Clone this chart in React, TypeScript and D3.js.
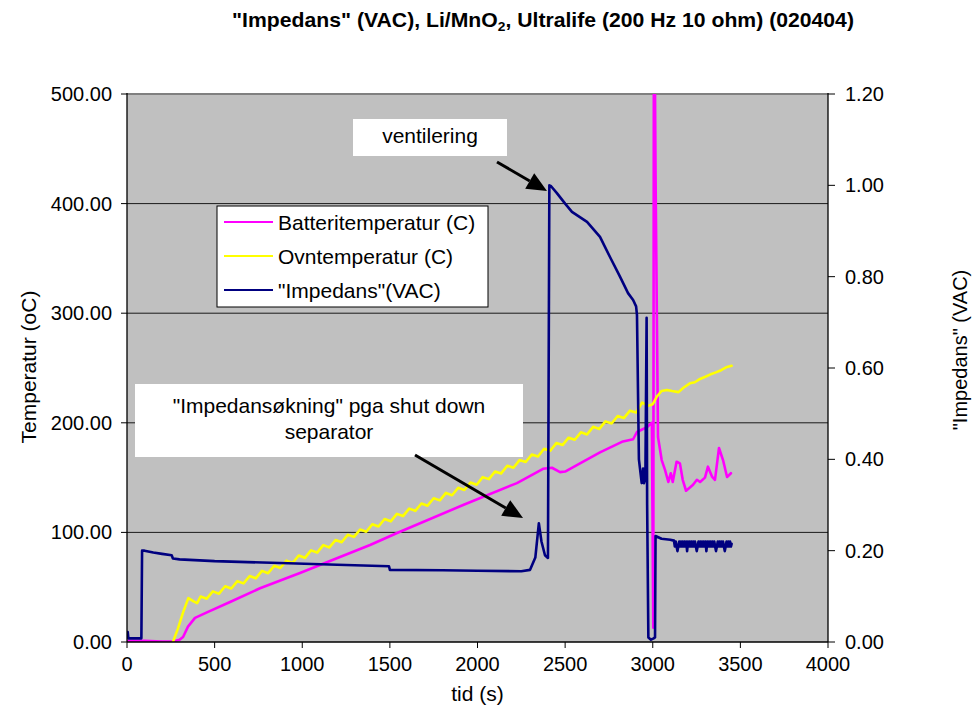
import React from 'react';
import * as d3 from 'd3';

// ---------- data ----------
const xTicks = [0, 500, 1000, 1500, 2000, 2500, 3000, 3500, 4000];
const leftTicks = [0, 100, 200, 300, 400, 500];
const rightTicks = [0, 0.2, 0.4, 0.6, 0.8, 1.0, 1.2];

const seriesNames = ['Batteritemperatur (C)', 'Ovntemperatur (C)', '"Impedans"(VAC)'];

const batTime = [0, 100, 200, 262, 300, 320, 348, 388, 456, 588, 759, 987, 1176, 1387, 1541, 1918, 2225, 2374, 2425, 2471, 2500, 2585, 2699, 2830, 2888, 2910, 2967, 2995, 3003, 3007, 3016, 3030, 3051, 3070, 3089, 3103, 3114, 3136, 3155, 3171, 3190, 3212, 3230, 3252, 3270, 3298, 3315, 3338, 3355, 3378, 3401, 3424, 3446];
const batTemp = [1, 1, 0.5, 0.5, 2, 4.6, 14, 22, 27, 36.5, 49, 63, 75, 88.5, 99.5, 125, 145, 158, 159, 155, 155.5, 163, 173, 183, 185, 191.6, 196, 200, 13, 650, 426, 187, 166, 157, 146, 154, 146, 164.5, 163, 148, 138, 141, 143.5, 148, 146, 150, 160, 151, 148, 177, 166, 150.5, 154];

const ovnTime = [262, 290, 320, 350, 380, 400, 420, 455, 490, 525, 560, 595, 630, 665, 700, 735, 770, 805, 840, 875, 910, 945, 980, 1015, 1050, 1085, 1120, 1155, 1190, 1225, 1260, 1295, 1330, 1365, 1400, 1435, 1470, 1505, 1540, 1575, 1610, 1645, 1680, 1715, 1750, 1785, 1820, 1855, 1890, 1925, 1960, 1995, 2030, 2065, 2100, 2135, 2170, 2205, 2240, 2275, 2310, 2345, 2380, 2415, 2450, 2485, 2520, 2555, 2590, 2625, 2660, 2695, 2730, 2765, 2800, 2835, 2870, 2905, 2940, 2975, 3000, 3024, 3050, 3081, 3110, 3147, 3175, 3212, 3240, 3270, 3300, 3327, 3360, 3390, 3424, 3450];
const ovnTemp = [0, 12, 27, 40, 37, 35.5, 41.5, 39.5, 46.2, 44.1, 50.9, 48.8, 55.5, 53.5, 60.2, 58.1, 64.9, 62.8, 69.5, 67.5, 74.2, 72.1, 78.9, 76.8, 83.6, 81.6, 88.4, 86.3, 93.1, 91.1, 97.9, 95.9, 102.6, 100.6, 107.4, 105.4, 112.2, 110.1, 116.9, 114.9, 121.7, 119.7, 126.4, 124.4, 131.2, 129.2, 136.0, 133.9, 140.7, 138.7, 145.5, 143.5, 150.4, 148.6, 155.6, 153.8, 160.8, 159.0, 166.0, 164.2, 171.1, 169.3, 176.3, 174.5, 181.5, 179.7, 186.4, 184.5, 191.3, 189.4, 196.3, 194.4, 201.3, 199.4, 206.2, 204.3, 211.1, 209.5, 218.5, 215.5, 217, 224, 229, 230, 229, 228, 232, 236, 237, 240, 242, 244, 246, 248, 251, 252];

const impTime = [0, 4, 8, 82, 86, 100, 150, 200, 255, 262, 300, 500, 873, 1200, 1495, 1500, 1800, 2000, 2250, 2300, 2330, 2350, 2365, 2385, 2402, 2410, 2420, 2453, 2500, 2539, 2625, 2699, 2756, 2813, 2859, 2888, 2905, 2910, 2921, 2937, 2945, 2950, 2958, 2965, 2968, 2975, 2990, 3005, 3013, 3016, 3050, 3100,
  3121, 3126, 3131, 3136, 3141, 3146, 3151, 3156, 3161, 3166, 3171, 3176, 3181, 3186, 3191, 3196, 3201, 3206, 3211, 3216, 3221, 3226, 3231, 3236, 3241, 3246, 3251, 3256, 3261, 3266, 3271, 3276, 3281, 3286, 3291, 3296, 3301, 3306, 3311, 3316, 3321, 3326, 3331, 3336, 3341, 3346, 3351, 3356, 3361, 3366, 3371, 3376, 3381, 3386, 3391, 3396, 3401, 3406, 3411, 3416, 3421, 3426, 3431, 3436, 3441, 3446, 3450];
const impVac = [0.01, 0.022, 0.008, 0.008, 0.2, 0.2, 0.196, 0.193, 0.19, 0.183, 0.181, 0.177, 0.173, 0.169, 0.166, 0.158, 0.157, 0.156, 0.155, 0.158, 0.185, 0.26, 0.22, 0.19, 0.184, 1.0, 0.998, 0.983, 0.96, 0.942, 0.92, 0.887, 0.843, 0.8, 0.764, 0.749, 0.735, 0.716, 0.4, 0.348, 0.38, 0.348, 0.36, 0.71, 0.3, 0.01, 0.005, 0.008, 0.01, 0.232, 0.226, 0.224,
  0.222, 0.209, 0.22, 0.209, 0.199, 0.209, 0.22, 0.209, 0.22, 0.209, 0.22, 0.209, 0.22, 0.209, 0.22, 0.199, 0.22, 0.209, 0.22, 0.209, 0.22, 0.209, 0.22, 0.209, 0.22, 0.209, 0.199, 0.209, 0.22, 0.209, 0.22, 0.209, 0.22, 0.209, 0.22, 0.209, 0.22, 0.199, 0.22, 0.209, 0.22, 0.209, 0.22, 0.209, 0.22, 0.209, 0.22, 0.209, 0.199, 0.209, 0.22, 0.209, 0.22, 0.209, 0.22, 0.209, 0.22, 0.209, 0.199, 0.209, 0.22, 0.209, 0.22, 0.209, 0.22, 0.209, 0.215];

// ---------- layout ----------
const FONT = '"Liberation Sans", Arial, Helvetica, sans-serif';
const PL = 127, PR = 828, PT = 94, PB = 642;
const COLORS = ['#FF00FF', '#FFFF00', '#000080'];

type P = [number, number];
const zip = (a: number[], b: number[]): P[] => a.map((v, i) => [v, b[i]] as P);

function Arrow({ x1, y1, x2, y2 }: { x1: number; y1: number; x2: number; y2: number }) {
  const ang = Math.atan2(y2 - y1, x2 - x1);
  const len = 20, half = 9;
  const bx = x2 - len * Math.cos(ang), by = y2 - len * Math.sin(ang);
  const px = -Math.sin(ang) * half, py = Math.cos(ang) * half;
  return (
    <g>
      <line x1={x1} y1={y1} x2={bx} y2={by} stroke="#000" strokeWidth={3} />
      <polygon points={`${x2},${y2} ${bx + px},${by + py} ${bx - px},${by - py}`} fill="#000" />
    </g>
  );
}

export default function App() {
  const x = d3.scaleLinear().domain([0, 4000]).range([PL, PR]);
  const yL = d3.scaleLinear().domain([0, 500]).range([PB, PT]);
  const yR = d3.scaleLinear().domain([0, 1.2]).range([PB, PT]);
  const lineL = d3.line<P>().x(d => x(d[0])).y(d => yL(d[1]));
  const lineR = d3.line<P>().x(d => x(d[0])).y(d => yR(d[1]));
  const fL = d3.format('.2f');

  const legendLines = [222, 256, 290];
  const legendText = [230, 264, 298];

  return (
    <svg width={974} height={728} style={{ position: 'absolute', left: 0, top: 0, background: '#fff' }} fontFamily={FONT}>
      <defs>
        <clipPath id="plotClip">
          <rect x={PL} y={PT} width={PR - PL} height={PB - PT} />
        </clipPath>
      </defs>
      <rect width={974} height={728} fill="#fff" />

      {/* title */}
      <text transform="translate(543,27) scale(1.06,1)" textAnchor="middle" fontSize={20} fontWeight="bold" fill="#000">
        "Impedans" (VAC), Li/MnO<tspan fontSize={13} dy={4}>2</tspan><tspan dy={-4}>, Ultralife (200 Hz 10 ohm) (020404)</tspan>
      </text>

      {/* plot area */}
      <rect x={PL} y={PT} width={PR - PL} height={PB - PT} fill="#C0C0C0" />
      {leftTicks.filter(v => v > 0 && v < 500).map(v => (
        <line key={v} x1={PL} x2={PR} y1={yL(v)} y2={yL(v)} stroke="#1a1a1a" strokeWidth={1} />
      ))}
      <line x1={PL} x2={PR} y1={PT} y2={PT} stroke="#808080" strokeWidth={2} />

      {/* series */}
      <g clipPath="url(#plotClip)" fill="none" strokeLinejoin="round" strokeLinecap="round">
        <path d={lineL(zip(batTime, batTemp)) || ''} stroke={COLORS[0]} strokeWidth={2.6} />
        <path d={lineL(zip(ovnTime, ovnTemp)) || ''} stroke={COLORS[1]} strokeWidth={2.6} />
        <path d={lineR(zip(impTime, impVac)) || ''} stroke={COLORS[2]} strokeWidth={2.6} />
      </g>

      {/* axes */}
      <line x1={PL} x2={PL} y1={PT - 1} y2={PB} stroke="#000" strokeWidth={1.3} />
      <line x1={PR} x2={PR} y1={PT - 1} y2={PB} stroke="#000" strokeWidth={1.3} />
      <line x1={PL} x2={PR} y1={PB} y2={PB} stroke="#000" strokeWidth={1.3} />
      {leftTicks.map(v => (
        <g key={'l' + v}>
          <line x1={PL - 6} x2={PL} y1={yL(v)} y2={yL(v)} stroke="#000" />
          <text x={112} y={yL(v) + 7} textAnchor="end" fontSize={20} fill="#000">{fL(v)}</text>
        </g>
      ))}
      {rightTicks.map(v => (
        <g key={'r' + v}>
          <line x1={PR} x2={PR + 7} y1={yR(v)} y2={yR(v)} stroke="#000" />
          <text x={845} y={yR(v) + 7} textAnchor="start" fontSize={20} fill="#000">{fL(v)}</text>
        </g>
      ))}
      {xTicks.map(v => (
        <g key={'x' + v}>
          <line x1={x(v)} x2={x(v)} y1={PB} y2={PB + 6} stroke="#000" />
          <text x={x(v)} y={671} textAnchor="middle" fontSize={20} fill="#000">{v}</text>
        </g>
      ))}

      {/* axis titles */}
      <text x={477.5} y={701} textAnchor="middle" fontSize={21} fill="#000">tid (s)</text>
      <text transform="translate(36,367) rotate(-90)" textAnchor="middle" fontSize={21} fill="#000">Temperatur (oC)</text>
      <text transform="translate(967,350) rotate(-90)" textAnchor="middle" fontSize={20} fill="#000">"Impedans" (VAC)</text>

      {/* legend */}
      <rect x={217} y={206} width={271} height={101} fill="#fff" stroke="#000" strokeWidth={1} />
      {seriesNames.map((n, i) => (
        <g key={n}>
          <line x1={224} x2={273} y1={legendLines[i]} y2={legendLines[i]} stroke={COLORS[i]} strokeWidth={2.2} />
          <text x={278} y={legendText[i]} fontSize={21} fill="#000">{n}</text>
        </g>
      ))}

      {/* annotations */}
      <rect x={353} y={119} width={154} height={37} fill="#fff" />
      <text x={430} y={143} textAnchor="middle" fontSize={21} fill="#000">ventilering</text>
      <Arrow x1={497} y1={162} x2={547} y2={191} />

      <rect x={135} y={384} width={388} height={73} fill="#fff" />
      <text x={329} y={413} textAnchor="middle" fontSize={21} fill="#000">"Impedansøkning" pga shut down</text>
      <text x={329} y={439} textAnchor="middle" fontSize={21} fill="#000">separator</text>
      <Arrow x1={415} y1={455} x2={523} y2={518} />
    </svg>
  );
}
